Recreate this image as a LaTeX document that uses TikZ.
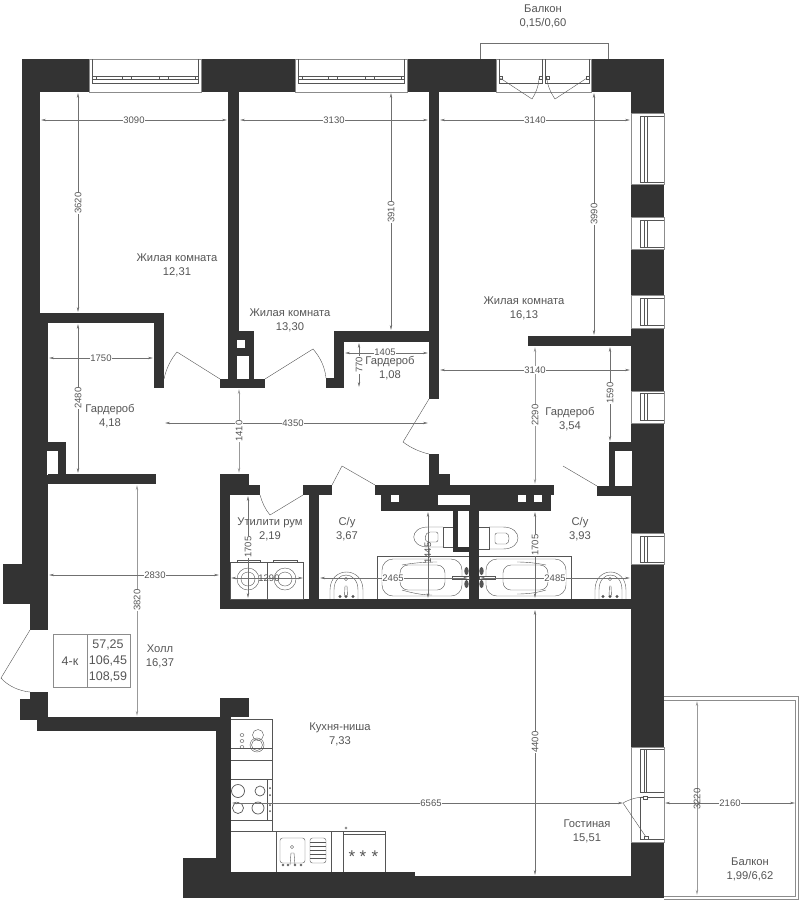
\documentclass[tikz,border=0pt]{standalone}
\usepackage{fontspec}
\setmainfont{Liberation Sans}
\usetikzlibrary{arrows.meta, positioning}

\definecolor{wallcol}{HTML}{333333}
\definecolor{inkcol}{HTML}{555555}
\definecolor{dimcol}{HTML}{707070}

\begin{document}
\begin{tikzpicture}[x=1pt, y=-1pt]
    \tikzstyle{wall} = [fill=wallcol, draw=none]
    \tikzstyle{hole} = [fill=white, draw=none]
    \tikzstyle{fixture} = [draw=inkcol, line width=0.4pt]
    \tikzstyle{frame} = [draw=black!45, line width=0.5pt]
    \tikzstyle{rail} = [draw=dimcol, line width=1pt]
    \tikzstyle{dim} = [draw=dimcol, line width=0.45pt, {Stealth[length=5pt, width=2.4pt]}-{Stealth[length=5pt, width=2.4pt]}]
    \tikzstyle{dimwide} = [dim, draw=black!40, line width=0.9pt]
    \tikzstyle{dimtext} = [fill=white, inner sep=0.8pt, text=inkcol, font=\fontsize{9.5}{10}\selectfont]
    \tikzstyle{dimup} = [dimtext, rotate=90]
    \tikzstyle{room} = [align=center, inner sep=0pt, text=inkcol, font=\fontsize{11.2}{14}\selectfont]
    \tikzstyle{cell} = [text=inkcol, font=\fontsize{12.5}{14}\selectfont]
    \tikzstyle{burner} = [inner sep=0pt, text=inkcol, font=\fontsize{17}{17}\selectfont]

    \useasboundingbox (0,0) rectangle (799,900);

    % Outer walls
    \fill[wall] (22,59) rectangle (89,92);
    \fill[wall] (201,59) rectangle (295,92);
    \fill[wall] (407,59) rectangle (496,92);
    \fill[wall] (591,59) rectangle (664,92);
    \fill[wall] (631,92) rectangle (664,113);
    \fill[wall] (631,184) rectangle (664,217);
    \fill[wall] (631,249) rectangle (664,295);
    \fill[wall] (631,328) rectangle (664,391);
    \fill[wall] (631,423) rectangle (664,533);
    \fill[wall] (631,564) rectangle (664,747);
    \fill[wall] (631,842) rectangle (664,898);
    \fill[wall] (22,92) rectangle (40,323);
    \fill[wall] (22,323) rectangle (48,564);
    \fill[wall] (3,564) rectangle (48,604);
    \fill[wall] (30,604) rectangle (48,630);
    \fill[wall] (30,692) rectangle (48,699);
    \fill[wall] (20,699) rectangle (48,720);
    \fill[wall] (37,717) rectangle (231,731);
    \fill[wall] (220,698) rectangle (249,717);
    \fill[wall] (216,731) rectangle (231,872);
    \fill[wall] (183,858) rectangle (231,872);
    \fill[wall] (183,872) rectangle (415,898);
    \fill[wall] (415,876) rectangle (664,898);

    % Inner walls, left part
    \fill[wall] (40,313) rectangle (164,323);
    \fill[wall] (154,323) rectangle (164,388);
    \fill[wall] (48,442) rectangle (66,474);
    \fill[hole] (47,451) rectangle (58,475);
    \fill[wall] (48,474) rectangle (156,484);
    \fill[wall] (228,92) rectangle (239,331);
    \fill[wall] (228,331) rectangle (254,379);
    \fill[hole] (237,340) rectangle (245,348);
    \fill[hole] (237,356) rectangle (249,379);
    \fill[wall] (220,379) rectangle (265,388);

    % Inner walls, middle part
    \fill[wall] (334,331) rectangle (439,342);
    \fill[wall] (334,342) rectangle (344,388);
    \fill[wall] (326,378) rectangle (344,388);
    \fill[wall] (429,92) rectangle (439,399);
    \fill[wall] (429,454) rectangle (439,486);
    \fill[wall] (429,474) rectangle (450,486);
    \fill[wall] (528,336) rectangle (631,346);

    % Inner walls, core and bathrooms
    \fill[wall] (375,485) rectangle (554,495);
    \fill[wall] (381,495) rectangle (551,511);
    \fill[hole] (391,495) rectangle (399,502);
    \fill[hole] (438,495) rectangle (470,505);
    \fill[hole] (518,495) rectangle (526,502);
    \fill[hole] (534,495) rectangle (542,502);
    \fill[wall] (609,442) rectangle (631,486);
    \fill[hole] (615,451) rectangle (631.5,486);
    \fill[wall] (597,486) rectangle (631,496);
    \fill[wall] (220,474) rectangle (249,485);
    \fill[wall] (220,485) rectangle (260,495);
    \fill[wall] (220,495) rectangle (230,609);
    \fill[wall] (303,485) rectangle (332,495);
    \fill[wall] (309,495) rectangle (319,600);
    \fill[wall] (220,599) rectangle (664,609);
    \fill[wall] (469,511) rectangle (479,600);
    \fill[wall] (453,511) rectangle (458,552);
    \fill[wall] (453,547) rectangle (469,552);

    % Doors
    \draw[fixture] (164,379) .. controls (166,369) and (171,359) .. (177,352) -- (220,379);
    \draw[fixture] (265,379) -- (313,349) .. controls (320,357) and (325,367) .. (326,378);
    \draw[fixture] (429,399) -- (403,442) .. controls (411,448) and (420,452) .. (429,454);
    \draw[fixture] (260,495) .. controls (262,502) and (265,509) .. (270,515) -- (303,495);
    \draw[fixture] (332,485) -- (342,466) -- (375,485);
    \draw[fixture] (563,466) -- (597,486);
    \draw[fixture] (30,630) -- (1,678) .. controls (8,686) and (19,691) .. (30,692);

    % Windows, top
    \draw[frame] (89,59) -- (89,92) -- (201,92) -- (201,59) -- cycle;
    \draw[fixture] (92,59) -- (92,83) -- (198,83) -- (198,59);
    \draw[fixture] (92,76) -- (198,76) (92,79) -- (198,79);
    \draw[fixture] (96,76) -- (96,79) (122,76) -- (122,79) (131,76) -- (131,79) (159,76) -- (159,79) (168,76) -- (168,79) (195,76) -- (195,79);
    \draw[frame] (295,59) -- (295,92) -- (407,92) -- (407,59) -- cycle;
    \draw[fixture] (298,59) -- (298,83) -- (404,83) -- (404,59);
    \draw[fixture] (298,76) -- (404,76) (298,79) -- (404,79);
    \draw[fixture] (302,76) -- (302,79) (328,76) -- (328,79) (337,76) -- (337,79) (365,76) -- (365,79) (374,76) -- (374,79) (401,76) -- (401,79);

    % Windows, right
    \draw[frame] (664,113) -- (631,113) -- (631,184) -- (664,184) -- cycle;
    \draw[fixture] (664,116) -- (640,116) -- (640,182) -- (664,182);
    \draw[fixture] (644,116) -- (644,182) (647,116) -- (647,182);
    \draw[frame] (664,217) -- (631,217) -- (631,249) -- (664,249) -- cycle;
    \draw[fixture] (664,220) -- (640,220) -- (640,247) -- (664,247);
    \draw[fixture] (644,220) -- (644,247) (647,220) -- (647,247);
    \draw[frame] (664,295) -- (631,295) -- (631,328) -- (664,328) -- cycle;
    \draw[fixture] (664,298) -- (640,298) -- (640,325) -- (664,325);
    \draw[fixture] (644,298) -- (644,325) (647,298) -- (647,325);
    \draw[frame] (664,391) -- (631,391) -- (631,423) -- (664,423) -- cycle;
    \draw[fixture] (664,393) -- (640,393) -- (640,420) -- (664,420);
    \draw[fixture] (644,393) -- (644,420) (647,393) -- (647,420);
    \draw[frame] (664,533) -- (631,533) -- (631,564) -- (664,564) -- cycle;
    \draw[fixture] (664,536) -- (640,536) -- (640,562) -- (664,562);
    \draw[fixture] (644,536) -- (644,562) (647,536) -- (647,562);

    % Balcony door, top
    \draw[rail] (480,59) -- (480,43) -- (608,43) -- (608,59);
    \draw[frame] (496,59) -- (496,92) -- (591,92) -- (591,59) -- cycle;
    \draw[fixture] (499,59) -- (499,83) -- (542,83) -- (542,59);
    \draw[fixture] (545,59) -- (545,83) -- (589,83) -- (589,59);
    \draw[fill=white, fixture] (499,76) rectangle (502,79);
    \draw[fill=white, fixture] (539,76) rectangle (542,79);
    \draw[fill=white, fixture] (546,76) rectangle (549,79);
    \draw[fill=white, fixture] (586,76) rectangle (589,79);
    \draw[fixture] (500,78) -- (532,99) .. controls (536,93) and (539,85) .. (539,78);
    \draw[fixture] (587,78) -- (555,99) .. controls (551,93) and (547,85) .. (547,78);

    % Balcony door, right
    \draw[frame] (664,747) -- (631,747) -- (631,842) -- (664,842) -- cycle;
    \draw[fixture] (664,749) -- (640,749) -- (640,792) -- (664,792);
    \draw[fixture] (644,749) -- (644,792) (646,749) -- (646,792);
    \draw[fixture] (664,797) -- (640,797) -- (640,839) -- (664,839);
    \draw[fixture] (623,803) .. controls (630,799) and (637,797) .. (645,797);
    \draw[fixture] (623,803) -- (646,837);
    \draw[fill=white, fixture] (643,796) rectangle (647,799);
    \draw[fill=white, fixture] (644,836) rectangle (648,839);

    % Balcony, right
    \draw[frame] (664,696) -- (798,696) -- (798,899) -- (664,899);
    \draw[frame] (664,700) -- (795,700) -- (795,896) -- (664,896);

    % Utility room
    \draw[fixture] (230,562) rectangle (267,599);
    \draw[fixture] (267,562) rectangle (303,599);
    \draw[fixture] (237,562) -- (237,560) -- (260,560) -- (260,562);
    \draw[fixture] (273,562) -- (273,560) -- (297,560) -- (297,562);
    \draw[fixture] (248,579) circle (11);
    \draw[fixture] (248,579) circle (7);
    \draw[fixture] (285,579) circle (11);
    \draw[fixture] (285,579) circle (7);

    % Bathroom, left
    \draw[fixture] (469,556) -- (377,556) -- (377,599);
    \draw[fixture, rounded corners=11pt] (382,559) rectangle (462,596);
    \draw[fixture, rounded corners=8pt] (400,565) rectangle (445,590);
    \draw[fixture] (402,565) .. controls (412,563) and (425,562) .. (437,562);
    \draw[fixture] (402,590) .. controls (412,593) and (422,595) .. (432,595);
    \draw[fixture] (453,527) -- (443,527) -- (443,547) -- (453,547);
    \draw[fixture] (443,527) -- (428,527) .. controls (409,527) and (409,547) .. (428,547) -- (443,547);
    \draw[fixture, rounded corners=2pt] (430,532) -- (438,532) -- (438,542) -- (430,542) .. controls (424,542) and (424,532) .. (430,532);

    \draw[fixture] (330,599) -- (330,590) .. controls (330,566) and (363,566) .. (363,590) -- (363,599);
    \draw[fixture] (334,599) -- (334,590) .. controls (334,570) and (358,570) .. (358,590) -- (358,599);
    \draw[fixture] (346,579) circle (1.6);
    \draw[fixture] (344.5,596) -- (345,586) -- (347,586) -- (347.5,596);
    \fill[inkcol] (340,596.5) circle (1.7) (346,596.5) circle (1.7) (353,596.5) circle (1.7);

    % Bathroom, right
    \draw[fixture] (479,556) -- (571,556) -- (571,599);
    \draw[fixture, rounded corners=11pt] (486,559) rectangle (566,596);
    \draw[fixture, rounded corners=8pt] (503,565) rectangle (548,590);
    \draw[fixture] (546,565) .. controls (536,563) and (527,562) .. (517,562);
    \draw[fixture] (546,590) .. controls (536,593) and (527,594) .. (517,594);
    \draw[fixture] (479,527) -- (489,527) -- (489,549) -- (479,549);
    \draw[fixture] (489,527) -- (503,527) .. controls (523,527) and (523,549) .. (503,549) -- (489,549);
    \draw[fixture, rounded corners=2pt] (495,533) -- (504,533) .. controls (510,533) and (510,544) .. (504,544) -- (495,544) -- cycle;
    \draw[fixture] (595,599) -- (595,590) .. controls (595,566) and (626,566) .. (626,590) -- (626,599);
    \draw[fixture] (599,599) -- (599,590) .. controls (599,570) and (622,570) .. (622,590) -- (622,599);
    \draw[fixture] (610,579) circle (1.6);
    \draw[fixture] (609,596) -- (609.5,586) -- (611,586) -- (611.5,596);
    \fill[inkcol] (603,596.5) circle (1.7) (610,596.5) circle (1.7) (617,596.5) circle (1.7);

    % Taps between the baths
    \fill[inkcol] (466.5,571) ellipse (2.2 and 4) (466.5,584) ellipse (2.2 and 4);
    \fill[inkcol] (481.5,571) ellipse (2.2 and 4) (481.5,584) ellipse (2.2 and 4);
    \draw[fixture, fill=white] (452,576.5) rectangle (469,579);
    \draw[fixture, fill=white] (479,576.5) rectangle (495,579);

    % Kitchen, long side
    \draw[fixture] (231,719) -- (272,719) -- (272,831);
    \draw[fixture] (231,748) -- (272,748) (231,760) -- (272,760);
    \draw[fixture] (231,779) -- (272,779) (231,820) -- (272,820) (267,779) -- (267,820);
    \draw[fixture] (258,735) circle (5.5);
    \draw[fixture] (257,745) circle (7);
    \draw[fixture] (257,745) circle (5.5);
    \draw[fixture] (242,735) ellipse (2 and 1.5) (242,741) ellipse (2 and 1.5) (242,747) ellipse (2 and 1.5);
    \draw[fixture, line width=0.7pt] (238,791) circle (6.5);
    \draw[fixture, line width=0.7pt] (260,791) circle (5);
    \draw[fixture, line width=0.7pt] (238,808) circle (5.5);
    \draw[fixture, line width=0.7pt] (258,808) circle (6);
    \fill[inkcol] (270,788) circle (1) (270,795) circle (1) (270,805) circle (1) (270,811) circle (1);

    % Kitchen, short side
    \draw[fixture] (231,831) -- (385,831);
    \draw[fixture] (276,831) -- (276,872) (331,831) -- (331,872);
    \draw[fixture] (343,831) -- (343,872) (385,831) -- (385,872) (343,834) -- (385,834);
    \draw[fixture, rounded corners=2.5pt] (280,838) rectangle (305,863);
    \draw[fixture, rounded corners=2.5pt] (310,838) rectangle (326,863);
    \draw[fixture] (310,842) -- (326,842) (310,846) -- (326,846) (310,850) -- (326,850) (310,854) -- (326,854) (310,858) -- (326,858);
    \draw[fixture] (292,847) circle (1.6);
    \draw[fixture] (290,865) -- (291,853) -- (294,853) -- (295,865);
    \draw[fixture] (283,865) circle (1) (288,865) circle (1) (295,865) circle (1) (301,865) circle (1);
    \draw[fixture] (346,828) circle (1.2);
    \node[burner] (star1) at (352,857) {*};
    \node[burner] (star2) at (363,857) {*};
    \node[burner] (star3) at (375,857) {*};

    % Dimensions
    \draw[dim] (41,120) -- (227,120);
    \draw[dim] (78,93) -- (78,312);
    \draw[dim] (240,120) -- (428,120);
    \draw[dim] (391,93) -- (391,330);
    \draw[dim] (440,120) -- (630,120);
    \draw[dim] (594,93) -- (594,335);
    \draw[dim] (49,358) -- (153,358);
    \draw[dim] (78,324) -- (78,473);
    \draw[dim] (165,423) -- (428,423);
    \draw[dimwide] (239,389) -- (239,473);
    \draw[dim] (345,353) -- (428,353);
    \draw[dim] (359,343) -- (359,387);
    \draw[dim] (440,370) -- (630,370);
    \draw[dimwide] (535,347) -- (535,484);
    \draw[dim] (610,347) -- (610,441);
    \draw[dimwide] (137,485) -- (137,716);
    \draw[dim] (49,575) -- (219,575);
    \draw[dim] (248,496) -- (248,598);
    \draw[dim] (231,578) -- (303,578);
    \draw[dim] (320,578) -- (468,578);
    \draw[dim] (428,512) -- (428,598);
    \draw[dim] (480,578) -- (630,578);
    \draw[dim] (535,512) -- (535,598);
    \draw[dim] (535,610) -- (535,875);
    \draw[dim] (232,803) -- (623,803);
    \draw[dimwide] (697,701) -- (697,895);
    \draw[dim] (665,803) -- (795,803);

    \node[dimtext] (w3090) at (134,120) {3090};
    \node[dimup] (h3620) at (78,203) {3620};
    \node[dimtext] (w3130) at (334,120) {3130};
    \node[dimup] (h3910) at (391,212) {3910};
    \node[dimtext] (w3140a) at (535,120) {3140};
    \node[dimup] (h3990) at (594,214) {3990};
    \node[dimtext] (w1750) at (101,358) {1750};
    \node[dimup] (h2480) at (78,398) {2480};
    \node[dimtext] (w4350) at (293,423) {4350};
    \node[dimup] (h1410) at (239,431) {1410};
    \node[dimtext] (w1405) at (385,352.5) {1405};
    \node[dimup] (h770) at (359,365) {770};
    \node[dimtext] (w3140b) at (535,370) {3140};
    \node[dimup] (h2290) at (535,415) {2290};
    \node[dimup] (h1590) at (610,393) {1590};
    \node[dimup] (h3820) at (137,600) {3820};
    \node[dimtext] (w2830) at (155,575) {2830};
    \node[dimup] (h1705a) at (248,547) {1705};
    \node[dimtext, fill=none] (w1290) at (269,578) {1290};
    \node[dimtext] (w2465) at (393,578) {2465};
    \node[dimup, fill=none] (h1445) at (428,553) {1445};
    \node[dimtext] (w2485) at (555,578) {2485};
    \node[dimup] (h1705b) at (535,545) {1705};
    \node[dimup] (h4400) at (535,742) {4400};
    \node[dimtext] (w6565) at (431,803) {6565};
    \node[dimup, fill=none] (h3220) at (697,799) {3220};
    \node[dimtext] (w2160) at (730,803) {2160};

    % Rooms
    \node[room] (balconytop) at (543,16) {Балкон\\0,15/0,60};
    \node[room] (living1) at (177,265) {Жилая комната\\12,31};
    \node[room] (living2) at (290,320) {Жилая комната\\13,30};
    \node[room] (living3) at (524,308) {Жилая комната\\16,13};
    \node[room] (robe1) at (110,416) {Гардероб\\4,18};
    \node[room] (robe2) at (390,368.5) {Гардероб\\1,08};
    \node[room] (robe3) at (570,419) {Гардероб\\3,54};
    \node[room] (utility) at (270,529) {Утилити рум\\2,19};
    \node[room] (bath1) at (347,529) {С/у\\3,67};
    \node[room] (bath2) at (580,529) {С/у\\3,93};
    \node[room] (hall) at (160,656) {Холл\\16,37};
    \node[room] (kitchen) at (340,734) {Кухня-ниша\\7,33};
    \node[room] (lounge) at (587,831) {Гостиная\\15,51};
    \node[room] (balconyright) at (750,869) {Балкон\\1,99/6,62};

    % Area box
    \draw[frame] (53,634.5) rectangle (130,687);
    \draw[frame] (87.5,634.5) -- (87.5,687);
    \node[cell] (kind) at (70,661) {4-к};
    \node[cell] (area1) at (108,645) {57,25};
    \node[cell] (area2) at (108,661) {106,45};
    \node[cell] (area3) at (108,677) {108,59};
\end{tikzpicture}
\end{document}
